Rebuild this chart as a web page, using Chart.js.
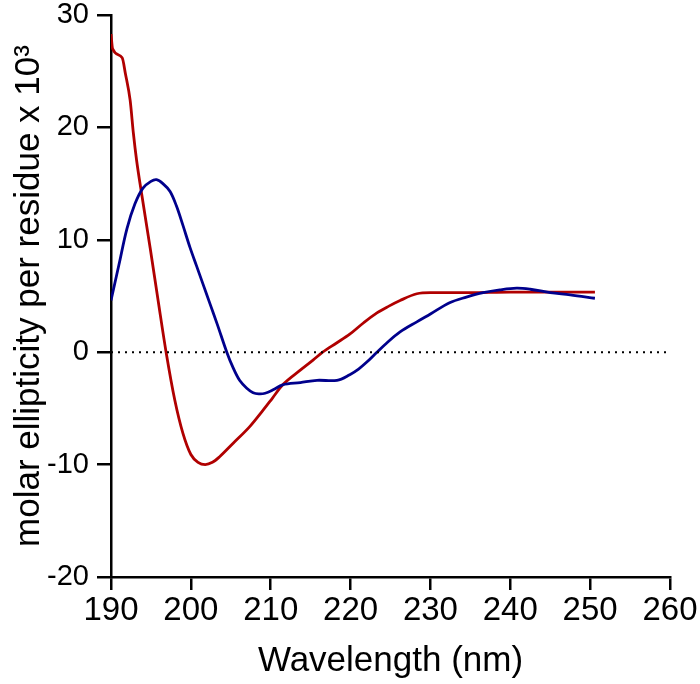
<!DOCTYPE html>
<html>
<head>
<meta charset="utf-8">
<script src="https://cdn.jsdelivr.net/npm/chart.js@4"></script>
<style>
  html, body { margin: 0; padding: 0; background: #fff; }
  #wrap { width: 700px; height: 684px; position: relative; }
</style>
</head>
<body>
<div id="wrap"><canvas id="c" width="700" height="684"></canvas></div>
<script>
// Wavelengths (nm) and molar ellipticity per residue (x10^3)
const redWavelengths = [190, 190.2, 191.4, 191.8, 192.4, 192.8, 193.2, 193.9, 194.9, 195.9, 196.9, 198, 199, 200, 200.9, 201.8, 202.7, 203.6, 205.3, 207.4, 209, 210.2, 211.5, 213.7, 215.3, 216.5, 218.2, 219.9, 221.6, 223.3, 224.8, 226.2, 228.3, 230, 235, 240, 245, 250.6];
const redValues      = [28.3, 27.0, 26.2, 24.8, 22.4, 19.5, 17.1, 13.8, 9.3, 4.6, 0, -4.3, -7.2, -9.1, -9.8, -10.0, -9.8, -9.3, -8.1, -6.6, -5.2, -4.1, -2.9, -1.6, -0.7, 0, 0.8, 1.6, 2.6, 3.5, 4.1, 4.6, 5.2, 5.3, 5.3, 5.35, 5.35, 5.35];

const blueWavelengths = [190, 191, 192, 193, 194, 195, 195.7, 196.5, 197.4, 198.2, 199, 199.9, 200.7, 201.5, 202.4, 203.3, 204.5, 205.3, 206.1, 207, 207.8, 208.5, 209.3, 210.3, 211.5, 213.7, 215.8, 218.3, 219.9, 221, 222, 223.3, 224.5, 226.2, 228.3, 230, 232.4, 234.5, 236.6, 238.7, 240.8, 242.5, 245, 247.5, 250.6];
const blueValues      = [4.6, 7.8, 11, 13.2, 14.6, 15.2, 15.35, 15.0, 14.3, 13.0, 11.3, 9.3, 7.7, 6.1, 4.3, 2.5, 0, -1.4, -2.5, -3.2, -3.6, -3.7, -3.65, -3.35, -2.9, -2.7, -2.5, -2.5, -2.0, -1.5, -0.9, 0, 0.8, 1.8, 2.7, 3.4, 4.4, 4.9, 5.3, 5.55, 5.7, 5.6, 5.3, 5.1, 4.8];

const zeroLineX = [190, 260];
const zeroLineY = [0, 0];

const xMin = 190, xMax = 260, xStep = 10;
const yMin = -20, yMax = 30, yStep = 10;

const xTitle = 'Wavelength (nm)';
const yTitle = 'molar ellipticity per residue x 10³';

const toPoints = (xs, ys) => xs.map((x, i) => ({ x: x, y: ys[i] }));

new Chart(document.getElementById('c'), {
  type: 'line',
  data: {
    datasets: [
      {
        data: toPoints(zeroLineX, zeroLineY),
        borderColor: '#000',
        borderWidth: 2,
        borderDash: [2, 5],
        pointRadius: 0,
        fill: false
      },
      {
        data: toPoints(blueWavelengths, blueValues),
        borderColor: '#00008C',
        borderWidth: 2.8,
        pointRadius: 0,
        tension: 0.35,
        fill: false
      },
      {
        data: toPoints(redWavelengths, redValues),
        borderColor: '#B00000',
        borderWidth: 2.8,
        pointRadius: 0,
        cubicInterpolationMode: 'monotone',
        fill: false
      }
    ]
  },
  options: {
    responsive: false,
    animation: false,
    events: [],
    layout: { padding: { top: 15, right: 30, left: 0, bottom: 0 } },
    plugins: { legend: { display: false }, tooltip: { enabled: false } },
    scales: {
      x: {
        type: 'linear',
        min: xMin, max: xMax,
        afterFit: s => { s.height = 107; },
        border: { display: true, color: '#000', width: 2.5 },
        grid: { display: true, drawOnChartArea: false, drawTicks: true, tickLength: 13, color: '#000', lineWidth: 2.5 },
        ticks: { stepSize: xStep, color: '#000', padding: 1, maxRotation: 0, font: { family: 'Liberation Sans, Arial, sans-serif', size: 33 } },
        title: { display: true, text: xTitle, color: '#000', padding: { top: 0, bottom: 2 }, font: { family: 'Liberation Sans, Arial, sans-serif', size: 35 } }
      },
      y: {
        type: 'linear',
        min: yMin, max: yMax,
        afterFit: s => { s.width = 111; s.paddingTop = 0; s.paddingBottom = 0; },
        border: { display: true, color: '#000', width: 2.5 },
        grid: { display: true, drawOnChartArea: false, drawTicks: true, tickLength: 14, color: '#000', lineWidth: 2.5 },
        ticks: { stepSize: yStep, color: '#000', padding: 8, font: { family: 'Liberation Sans, Arial, sans-serif', size: 29 } },
        title: { display: true, text: yTitle, color: '#000', padding: { top: 8, bottom: 0 }, font: { family: 'Liberation Sans, Arial, sans-serif', size: 35 } }
      }
    }
  }
});
</script>
</body>
</html>
